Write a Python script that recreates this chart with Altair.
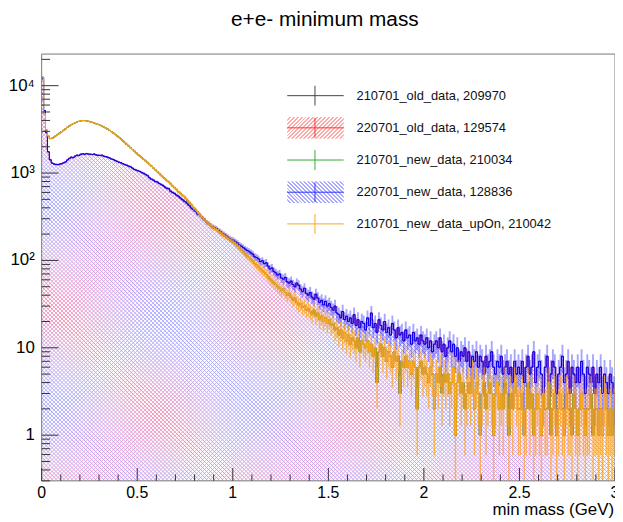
import math
import altair as alt
import pandas as pd

# ---------------- data (counts per 0.01 GeV bin, 0 .. 3 GeV) ----------------
BIN = 0.01

counts_220701_new = [
    12000, 5200, 2900, 1750, 1420, 1300, 1270, 1255, 1250, 1265,
    1280, 1310, 1340, 1410, 1470, 1520, 1500, 1560, 1600, 1590,
    1640, 1660, 1640, 1670, 1650, 1640, 1630, 1650, 1610, 1600,
    1590, 1600, 1560, 1540, 1520, 1490, 1450, 1430, 1390, 1360,
    1330, 1310, 1280, 1250, 1230, 1200, 1180, 1140, 1100, 1080,
    1060, 1040, 1010, 990, 960, 930, 880, 850, 830, 800,
    790, 760, 740, 720, 690, 670, 660, 620, 600, 585,
    560, 545, 520, 500, 478, 465, 440, 420, 395, 380,
    365, 340, 335, 318, 300, 290, 270, 265, 250, 243,
    238, 232, 222, 215, 205, 200, 192, 185, 178, 172,
    170, 163, 158, 150, 146, 140, 135, 130, 127, 122,
    118, 110, 108, 104, 97, 99, 92, 94, 86, 80,
    82, 75, 72, 68, 70, 63, 61, 64, 57, 55,
    58, 53, 50, 55, 52, 47, 44, 48, 42, 40,
    43, 38, 36, 41, 37, 33, 35, 31, 34, 30,
    32, 29, 27, 30, 25, 24, 22, 26, 21, 23,
    20, 22, 19, 24, 18, 21, 17, 20, 19, 16,
    22, 18, 25, 17, 19, 15, 21, 18, 16, 20,
    15, 17, 14, 19, 16, 13, 17, 14, 15, 12,
    16, 13, 14, 11, 15, 12, 13, 11, 14, 12,
    11, 13, 10, 12, 9, 11, 12, 10, 13, 9,
    11, 8, 10, 12, 9, 11, 8, 10, 7, 9,
    8, 10, 7, 9, 6, 8, 7, 9, 6, 8,
    7, 5, 8, 6, 7, 9, 6, 5, 7, 6,
    8, 5, 6, 7, 5, 6, 4, 7, 5, 6,
    5, 7, 4, 6, 8, 5, 6, 9, 4, 6,
    7, 5, 3, 6, 8, 4, 5, 7, 6, 3,
    5, 6, 8, 4, 5, 7, 3, 6, 5, 4,
    6, 4, 7, 5, 3, 6, 5, 4, 6, 3,
    5, 4, 6, 3, 5, 4, 3, 5, 4, 3,
]

counts_210701_upOn = [
    12500, 4800, 3100, 2650, 2480, 2500, 2580, 2680, 2770, 2870,
    2980, 3090, 3200, 3340, 3460, 3580, 3680, 3760, 3840, 3900,
    3950, 3990, 3980, 3960, 3910, 3860, 3800, 3740, 3670, 3600,
    3530, 3450, 3360, 3280, 3180, 3080, 2980, 2870, 2770, 2660,
    2560, 2450, 2340, 2230, 2130, 2040, 1950, 1860, 1780, 1700,
    1620, 1560, 1490, 1430, 1370, 1310, 1250, 1200, 1140, 1090,
    1040, 990, 940, 900, 860, 820, 790, 750, 710, 680,
    650, 610, 590, 560, 540, 510, 480, 455, 430, 400,
    385, 360, 340, 320, 305, 290, 275, 262, 250, 240,
    233, 226, 215, 207, 200, 192, 185, 178, 172, 166,
    160, 152, 145, 138, 130, 125, 118, 112, 108, 103,
    98, 92, 88, 84, 80, 76, 73, 69, 65, 61,
    58, 55, 53, 50, 48, 45, 47, 43, 40, 42,
    38, 35, 37, 33, 31, 32, 29, 30, 27, 28,
    26, 24, 27, 23, 25, 21, 23, 20, 22, 19,
    21, 18, 19, 16, 17, 14, 16, 13, 15, 12,
    14, 11, 13, 12, 10, 13, 9, 12, 11, 10,
    12, 9, 11, 8, 10, 4, 9, 11, 8, 10,
    7, 9, 8, 6, 9, 7, 8, 3, 7, 6,
    8, 6, 7, 5, 7, 6, 2, 6, 7, 5,
    6, 5, 4, 6, 5, 2, 5, 4, 6, 3,
    5, 4, 5, 3, 4, 6, 1, 4, 5, 3,
    4, 2, 3, 4, 3, 5, 2, 4, 3, 1,
    3, 4, 2, 3, 4, 3, 1, 3, 4, 2,
    3, 2, 4, 3, 1, 3, 2, 4, 3, 2,
    2, 3, 1, 2, 4, 2, 3, 1, 2, 3,
    2, 1, 3, 2, 2, 4, 1, 2, 3, 1,
    2, 3, 2, 1, 3, 2, 2, 1, 3, 2,
    1, 2, 3, 2, 1, 2, 2, 3, 1, 2,
    2, 1, 2, 1, 3, 2, 1, 2, 1, 2,
]

# series hidden underneath the visible ones (drawn first, same shapes)
counts_210701_old = counts_210701_upOn
counts_210701_newd = counts_210701_upOn
counts_220701_old = counts_220701_new

legend_labels = [
    "210701_old_data, 209970",
    "220701_old_data, 129574",
    "210701_new_data, 210034",
    "220701_new_data, 128836",
    "210701_new_data_upOn, 210042",
]
x_tick_values = [0, 0.5, 1, 1.5, 2, 2.5, 3]
x_tick_text = ["0", "0.5", "1", "1.5", "2", "2.5", "3"]
y_tick_values = [1, 10, 100, 1000, 10000]
y_tick_text = ["1", "10", "10²", "10³", "10⁴"]

# ---------------- style / layout ----------------
FONT = "Liberation Sans"
W, H = 579, 431
YMIN, YMAX = 0.3, 23000
C_BLACK, C_RED, C_GREEN, C_BLUE, C_ORANGE = "#000000", "#ff0000", "#33aa33", "#0000ff", "#ffa41c"
HATCH_RED, HATCH_BLUE, HATCH_DX = "#ffa2c2", "#a9a9ff", 4

xs = alt.Scale(domain=[0, 3], nice=False, zero=False)
ys = alt.Scale(type="log", domain=[YMIN, YMAX], nice=False)


def step_df(counts):
    n = len(counts)
    return pd.DataFrame({"lo": [round(i * BIN, 4) for i in range(n + 1)],
                         "v": list(counts) + [counts[-1]]})


def bins_df(counts):
    return pd.DataFrame({"mid": [round(i * BIN + BIN / 2, 4) for i in range(len(counts))],
                         "v": list(counts)})


def hatch_grad(color_on, backslash, w, h, dx=4.0, frac=0.5):
    """small hatched swatch (legend) as a hard-stop linear gradient"""
    r = h / w
    s = (1 + r) / (1 + r * r)
    pt = dx / (w + h)
    stops, k = [], 0
    while k * pt < 1:
        a = k * pt
        b = min(1.0, a + (1 - frac) * pt)
        c = min(1.0, a + pt)
        stops += [alt.GradientStop(offset=a, color="#ffffff"), alt.GradientStop(offset=b, color="#ffffff"),
                  alt.GradientStop(offset=b, color=color_on), alt.GradientStop(offset=c, color=color_on)]
        k += 1
    if backslash:
        return alt.LinearGradient(gradient="linear", stops=stops, x1=0, y1=1, x2=s, y2=1 - s * r)
    return alt.LinearGradient(gradient="linear", stops=stops, x1=0, y1=0, x2=s, y2=s * r)


def hist_line(counts, color, width=1.0):
    return alt.Chart(step_df(counts)).mark_line(
        interpolate="step-after", color=color, strokeWidth=width, clip=True
    ).encode(x=alt.X("lo:Q", scale=xs, axis=None), y=alt.Y("v:Q", scale=ys, axis=None))


def err_bars(counts, color, opacity, width):
    return alt.Chart(bins_df(counts)).transform_calculate(
        lo_e=f"max(datum.v - sqrt(datum.v), {YMIN})", hi_e="datum.v + sqrt(datum.v)"
    ).mark_rule(color=color, opacity=opacity, strokeWidth=width, clip=True).encode(
        x=alt.X("mid:Q", scale=xs, axis=None),
        y=alt.Y("lo_e:Q", scale=ys, axis=None),
        y2="hi_e:Q",
    )


# hatch lines over the whole frame (pixel geometry = fill style), masked above the histogram
fwd = pd.DataFrame({"a": [c for c in range(0, W + H + 1, HATCH_DX)]})
fwd = fwd.assign(b=fwd["a"] - H, t=0, u=H)
bwd = pd.DataFrame({"a": [c for c in range(-H, W + 1, HATCH_DX)]})
bwd = bwd.assign(b=bwd["a"] + H, t=0, u=H)


def hatch_lines(df, color):
    return alt.Chart(df).mark_rule(color=color, strokeWidth=1, clip=True).encode(
        x=alt.X("a:Q", scale=None, axis=None), x2="b:Q",
        y=alt.Y("t:Q", scale=None, axis=None), y2="u:Q")


mask = alt.Chart(step_df(counts_220701_new)).mark_area(
    interpolate="step-after", color="white", opacity=1, clip=True
).encode(
    x=alt.X("lo:Q", scale=xs, axis=None),
    y=alt.Y("v:Q", scale=ys, axis=None),
    y2=alt.datum(YMAX),
)

layers = [
    hatch_lines(fwd, HATCH_RED),     # 220701_old_data fill (3005-like)
    hatch_lines(bwd, HATCH_BLUE),    # 220701_new_data fill (3004-like)
    mask,
    hist_line(counts_210701_old, C_BLACK),
    hist_line(counts_220701_old, C_RED),
    hist_line(counts_210701_newd, C_GREEN),
    err_bars(counts_220701_new, C_BLUE, 0.35, 1.9),
    hist_line(counts_220701_new, C_BLUE),
    err_bars(counts_210701_upOn, C_ORANGE, 0.75, 1.4),
    hist_line(counts_210701_upOn, C_ORANGE),
]

dummy = pd.DataFrame({"a": [0]})
# frame
layers.append(alt.Chart(dummy).mark_rect(fillOpacity=0, stroke="#777777", strokeWidth=1).encode(
    x=alt.value(0), x2=alt.value(W), y=alt.value(0), y2=alt.value(H)))

# inward tick marks
x_minor = [round(0.1 * k, 1) for k in range(31) if k % 5 != 0]
y_minor = [k * 10 ** d for d in range(-1, 5) for k in range(2, 10) if YMIN <= k * 10 ** d <= YMAX]
TICK = "#333333"
layers.append(alt.Chart(pd.DataFrame({"t": x_tick_values})).mark_rule(color=TICK, strokeWidth=1).encode(
    x=alt.X("t:Q", scale=xs, axis=None), y=alt.value(H), y2=alt.value(H - 13)))
layers.append(alt.Chart(pd.DataFrame({"t": x_minor})).mark_rule(color=TICK, strokeWidth=1).encode(
    x=alt.X("t:Q", scale=xs, axis=None), y=alt.value(H), y2=alt.value(H - 6.5)))
layers.append(alt.Chart(pd.DataFrame({"t": y_tick_values})).mark_rule(color=TICK, strokeWidth=1).encode(
    y=alt.Y("t:Q", scale=ys, axis=None), x=alt.value(0), x2=alt.value(17)))
layers.append(alt.Chart(pd.DataFrame({"t": y_minor})).mark_rule(color=TICK, strokeWidth=1).encode(
    y=alt.Y("t:Q", scale=ys, axis=None), x=alt.value(0), x2=alt.value(8.5)))

# tick labels, placed through the scales
layers.append(alt.Chart(pd.DataFrame({"t": x_tick_values, "lab": x_tick_text})).mark_text(
    align="center", baseline="middle", font=FONT, fontSize=16, color="black").encode(
    x=alt.X("t:Q", scale=xs, axis=None), y=alt.value(H + 12), text="lab:N"))
layers.append(alt.Chart(pd.DataFrame({"t": y_tick_values, "lab": y_tick_text})).mark_text(
    align="right", baseline="middle", font=FONT, fontSize=17, color="black").encode(
    y=alt.Y("t:Q", scale=ys, axis=None), x=alt.value(-7), text="lab:N"))

# axis title
layers.append(alt.Chart(dummy).mark_text(align="right", baseline="middle", font=FONT,
                                         fontSize=17, color="black").encode(
    x=alt.value(W - 1), y=alt.value(H + 29), text=alt.value("min mass (GeV)")))

# ---------------- legend (drawn by hand, ROOT style) ----------------
LX0, LX1, LXC, LTX = 248, 305, 276, 318
row_y = [42, 74.5, 107, 139.5, 171.5]
row_col = ["#444444", "#ff3333", "#33aa33", "#3333ff", C_ORANGE]

for i, (lab, cy, col) in enumerate(zip(legend_labels, row_y, row_col)):
    if i in (1, 3):
        grad = hatch_grad("#ffa8a8" if i == 1 else "#a8a8ff", i == 3, LX1 - LX0, 22.0)
        layers.append(alt.Chart(dummy).mark_rect(fill=grad).encode(
            x=alt.value(LX0), x2=alt.value(LX1), y=alt.value(cy - 11), y2=alt.value(cy + 11)))
    layers.append(alt.Chart(dummy).mark_rule(color=col, strokeWidth=1).encode(
        x=alt.value(LX0), x2=alt.value(LX1), y=alt.value(cy)))
    layers.append(alt.Chart(dummy).mark_rule(color=col, strokeWidth=1).encode(
        x=alt.value(LXC), y=alt.value(cy - 10), y2=alt.value(cy + 10)))
    layers.append(alt.Chart(dummy).mark_text(align="left", baseline="middle", font=FONT,
                                             fontSize=13, color="#111111").encode(
        x=alt.value(LTX), y=alt.value(cy), text=alt.value(lab)))

# chart title (text above the frame)
layers.append(alt.Chart(dummy).mark_text(align="center", baseline="middle", font=FONT,
                                         fontSize=21, color="black").encode(
    x=alt.value(286), y=alt.value(-34), text=alt.value("e+e- minimum mass")))

chart = alt.layer(*layers).properties(
    width=W, height=H,
    autosize=alt.AutoSizeParams(type="none"),
    padding={"left": 34, "top": 44, "right": 0, "bottom": 36},
    background="white",
).configure_view(stroke=None)

chart.save("out.html", embed_options={"renderer": "svg", "actions": False})
